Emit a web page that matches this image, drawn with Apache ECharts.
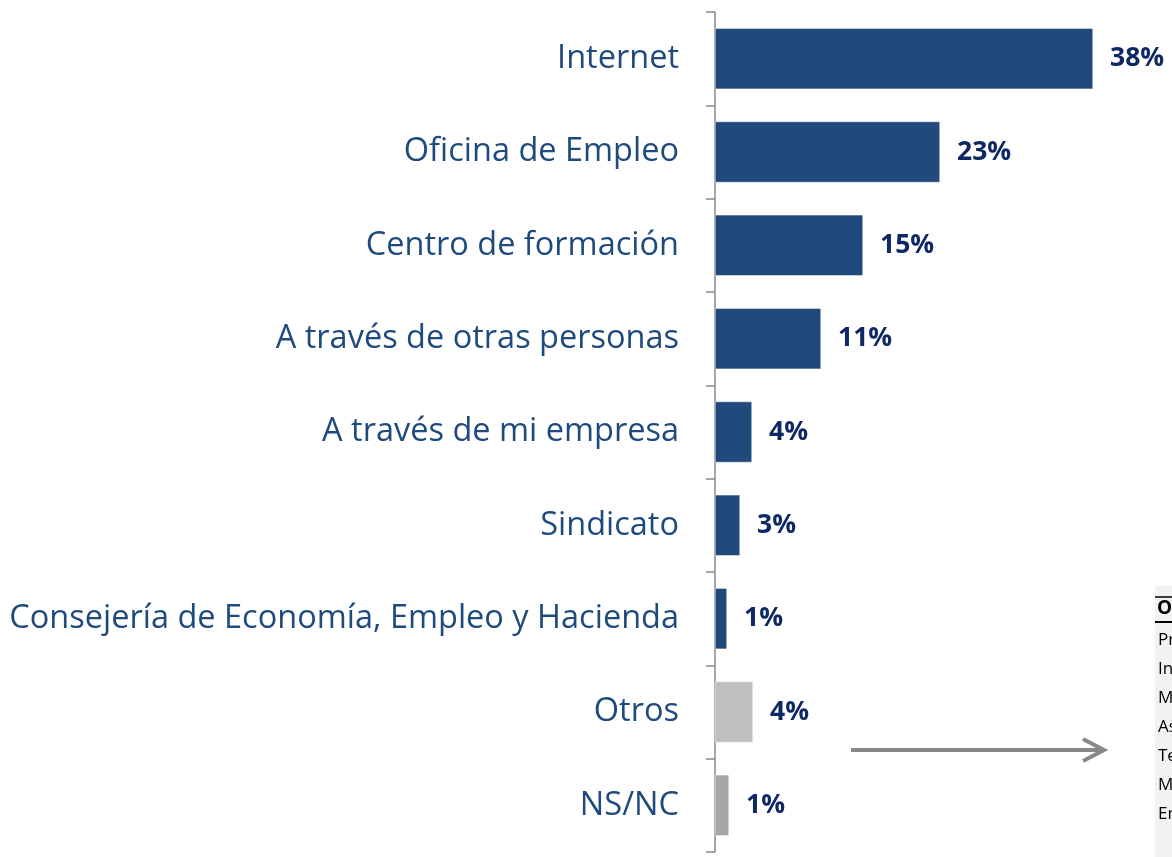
<!DOCTYPE html>
<html>
<head>
<meta charset="utf-8">
<script src="https://cdn.jsdelivr.net/npm/echarts@6/dist/echarts.min.js"></script>
<style>
html,body{margin:0;padding:0;background:#fff;}
#chart{width:1172px;height:857px;}
</style>
</head>
<body>
<div id="chart"></div>
<script>
var categories = ['Internet', 'Oficina de Empleo', 'Centro de formación', 'A través de otras personas',
    'A través de mi empresa', 'Sindicato', 'Consejería de Economía, Empleo y Hacienda', 'Otros', 'NS/NC'];
var values = [37.8, 22.5, 14.8, 10.6, 3.7, 2.5, 1.2, 3.8, 1.4];
var barColors = ['#214A7C', '#214A7C', '#214A7C', '#214A7C', '#214A7C', '#214A7C', '#214A7C', '#BFBFBF', '#A6A6A6'];
var otrosLines = ['Prensa', 'Inem', 'Medios', 'Asociaciones', 'Televisión', 'Mutua', 'Empresa'];

var myChart = echarts.init(document.getElementById('chart'));

var seriesData = [];
for (var i = 0; i < values.length; i++) {
    seriesData.push({value: values[i], itemStyle: {color: barColors[i]}});
}

// cuadro lateral recortado
var side = [
    {type: 'rect', shape: {x: 1155, y: 586, width: 30, height: 280}, style: {fill: '#F2F2F2'}},
    {type: 'line', shape: {x1: 1155, y1: 597, x2: 1180, y2: 597}, style: {stroke: '#000', lineWidth: 1.5}},
    {type: 'text', x: 1157, y: 599, style: {text: 'Otros', font: 'bold 19px "Open Sans"', fill: '#000'}},
    {type: 'line', shape: {x1: 1155, y1: 622, x2: 1180, y2: 622}, style: {stroke: '#000', lineWidth: 2}}
];
for (var j = 0; j < otrosLines.length; j++) {
    side.push({type: 'text', x: 1158, y: 632 + j * 29, style: {text: otrosLines[j], font: '17px "Open Sans"', fill: '#000'}});
}
// flecha
side.push({type: 'line', shape: {x1: 851, y1: 750, x2: 1102, y2: 750}, style: {stroke: '#888', lineWidth: 4}});
side.push({type: 'polyline', shape: {points: [[1083, 739], [1104, 750], [1083, 761]]}, style: {stroke: '#888', lineWidth: 4, fill: null}});

myChart.setOption({
    animation: false,
    grid: {left: 715, top: 12, width: 400, height: 840},
    xAxis: {
        type: 'value',
        min: 0,
        max: 40,
        show: false
    },
    yAxis: {
        type: 'category',
        inverse: true,
        data: categories,
        axisLine: {show: true, lineStyle: {color: '#888', width: 1.5}},
        axisTick: {show: true, length: 9, lineStyle: {color: '#888', width: 1.5}},
        axisLabel: {
            margin: 36,
            fontFamily: 'Open Sans',
            fontSize: 32.5,
            color: '#1F4A7E',
            padding: [3, 0, 0, 0]
        }
    },
    series: [{
        type: 'bar',
        data: seriesData,
        barWidth: 61,
        itemStyle: {borderColor: '#fff', borderWidth: 0.5},
        label: {
            show: true,
            position: 'right',
            distance: 17,
            fontFamily: 'Open Sans',
            fontWeight: 'bold',
            fontSize: 26.5,
            color: '#0E2866',
            padding: [3, 0, 0, 0]
        ,
            formatter: function (p) { return Math.round(p.value) + '%'; }
        }
    }],
    graphic: side
});
</script>
</body>
</html>
